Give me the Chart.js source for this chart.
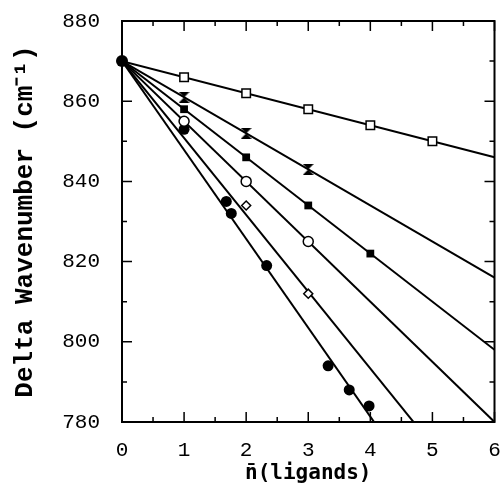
<!DOCTYPE html>
<html>
<head>
<meta charset="utf-8">
<script src="https://cdn.jsdelivr.net/npm/chart.js@4"></script>
<style>
  body { margin: 0; background: #fff; }
</style>
</head>
<body>
<canvas id="chartSpace" width="502" height="488"></canvas>
<script>
const chartDiv = document.getElementById('chartSpace');

// axis ticks (major); minor ticks sit halfway between them
const xTicks = [0, 1, 2, 3, 4, 5, 6];
const yTicks = [780, 800, 820, 840, 860, 880];

// common starting point of all series
const originX = [0];
const originY = [870];

// open squares
const sqOpenX = [1, 2, 3, 4, 5];
const sqOpenY = [866, 862, 858, 854, 850];
// bow ties
const bowX = [1, 2, 3];
const bowY = [861, 852, 843];
// filled squares
const sqFillX = [1, 2, 3, 4];
const sqFillY = [858, 846, 834, 822];
// open circles
const circOpenX = [1, 2, 3];
const circOpenY = [855, 840, 825];
// open diamonds
const diaX = [2, 3];
const diaY = [834, 812];
// filled circles
const circFillX = [1, 1.68, 1.76, 2.33, 3.32, 3.66, 3.98];
const circFillY = [853, 835, 832, 819, 794, 788, 784];

// fitted lines: value at n = 0 and at n = 6 (clipped by the frame)
const fitStart = [870, 870, 870, 870, 870, 870];
const fitEnd = [846, 816, 798, 780, 755, 737];

function pts(xs, ys) {
  return xs.map((x, i) => ({ x: x, y: ys[i] }));
}

function makeBowtie() {
  const c = document.createElement('canvas');
  c.width = 11; c.height = 11;
  const g = c.getContext('2d');
  g.fillStyle = '#000';
  g.beginPath();
  g.moveTo(0, 0); g.lineTo(11, 0); g.lineTo(5.5, 5.5); g.closePath();
  g.moveTo(0, 11); g.lineTo(11, 11); g.lineTo(5.5, 5.5); g.closePath();
  g.fill();
  return c;
}

const pointSets = [
  { data: pts(originX, originY), pointStyle: 'circle', pointRadius: 6, pointBackgroundColor: '#000', pointBorderWidth: 0 },
  { data: pts(sqOpenX, sqOpenY), pointStyle: 'rect', pointRadius: 6, pointBackgroundColor: '#fff', pointBorderWidth: 1.5 },
  { data: pts(bowX, bowY), pointStyle: makeBowtie(), pointRadius: 6 },
  { data: pts(sqFillX, sqFillY), pointStyle: 'rect', pointRadius: 5.5, pointBackgroundColor: '#000', pointBorderWidth: 0 },
  { data: pts(circOpenX, circOpenY), pointStyle: 'circle', pointRadius: 5, pointBackgroundColor: '#fff', pointBorderWidth: 1.5 },
  { data: pts(diaX, diaY), pointStyle: 'rectRot', pointRadius: 4.5, pointBackgroundColor: '#fff', pointBorderWidth: 1.5 },
  { data: pts(circFillX, circFillY), pointStyle: 'circle', pointRadius: 5.5, pointBackgroundColor: '#000', pointBorderWidth: 0 }
].map(d => Object.assign({ showLine: false, pointBorderColor: '#000', clip: false }, d));

const lineSets = fitStart.map((y0, i) => ({
  data: [{ x: xTicks[0], y: y0 }, { x: xTicks[xTicks.length - 1], y: fitEnd[i] }],
  showLine: true,
  borderColor: '#000',
  borderWidth: 2,
  pointRadius: 0
}));

// frame on all four sides with inward major / minor ticks
const boxTicks = {
  id: 'boxTicks',
  beforeDatasetsDraw(chart) {
    const { ctx, chartArea: a, scales: { x, y } } = chart;
    ctx.save();
    ctx.strokeStyle = '#000';
    ctx.lineWidth = 2;
    ctx.strokeRect(a.left, a.top, a.right - a.left, a.bottom - a.top);
    ctx.lineWidth = 1.5;
    const major = 10, minor = 5;
    const mark = (v, len, horiz) => {
      ctx.beginPath();
      if (horiz) {
        const px = x.getPixelForValue(v);
        ctx.moveTo(px, a.bottom); ctx.lineTo(px, a.bottom - len);
        ctx.moveTo(px, a.top); ctx.lineTo(px, a.top + len);
      } else {
        const py = y.getPixelForValue(v);
        ctx.moveTo(a.left, py); ctx.lineTo(a.left + len, py);
        ctx.moveTo(a.right, py); ctx.lineTo(a.right - len, py);
      }
      ctx.stroke();
    };
    xTicks.forEach((v, i) => {
      mark(v, major, true);
      if (i > 0) mark((v + xTicks[i - 1]) / 2, minor, true);
    });
    yTicks.forEach((v, i) => {
      mark(v, major, false);
      if (i > 0) mark((v + yTicks[i - 1]) / 2, minor, false);
    });
    ctx.restore();
  }
};

new Chart(chartDiv, {
  type: 'scatter',
  data: { datasets: pointSets.concat(lineSets) },
  options: {
    responsive: false,
    animation: false,
    events: [],
    layout: { padding: { top: 21, right: 5, left: 0, bottom: 0 } },
    plugins: { legend: { display: false }, tooltip: { enabled: false } },
    scales: {
      x: {
        type: 'linear',
        min: 0, max: 6,
        grid: { display: false },
        border: { display: false },
        afterBuildTicks: s => { s.ticks = xTicks.map(v => ({ value: v })); },
        afterFit: s => { s.height = 66; s.paddingLeft = 0; s.paddingRight = 0; },
        ticks: { padding: 8, color: '#000', font: { family: 'Liberation Mono', size: 21 } },
        title: {
          display: true,
          text: 'n\u0304(ligands)',
          color: '#000',
          padding: { top: 0, bottom: 2 },
          font: { family: 'DejaVu Sans Mono', size: 21, weight: 'bold' }
        }
      },
      y: {
        type: 'linear',
        min: 780, max: 880,
        grid: { display: false },
        border: { display: false },
        afterBuildTicks: s => { s.ticks = yTicks.map(v => ({ value: v })); },
        afterFit: s => { s.width = 122; s.paddingTop = 0; s.paddingBottom = 0; },
        ticks: { padding: 14, color: '#000', font: { family: 'Liberation Mono', size: 21 } },
        title: {
          display: true,
          text: 'Delta Wavenumber (cm\u207B\u00B9)',
          color: '#000',
          padding: { top: 10, bottom: 0 },
          font: { family: 'Liberation Mono', size: 26, weight: 'bold' }
        }
      }
    }
  },
  plugins: [boxTicks]
});
</script>
</body>
</html>
